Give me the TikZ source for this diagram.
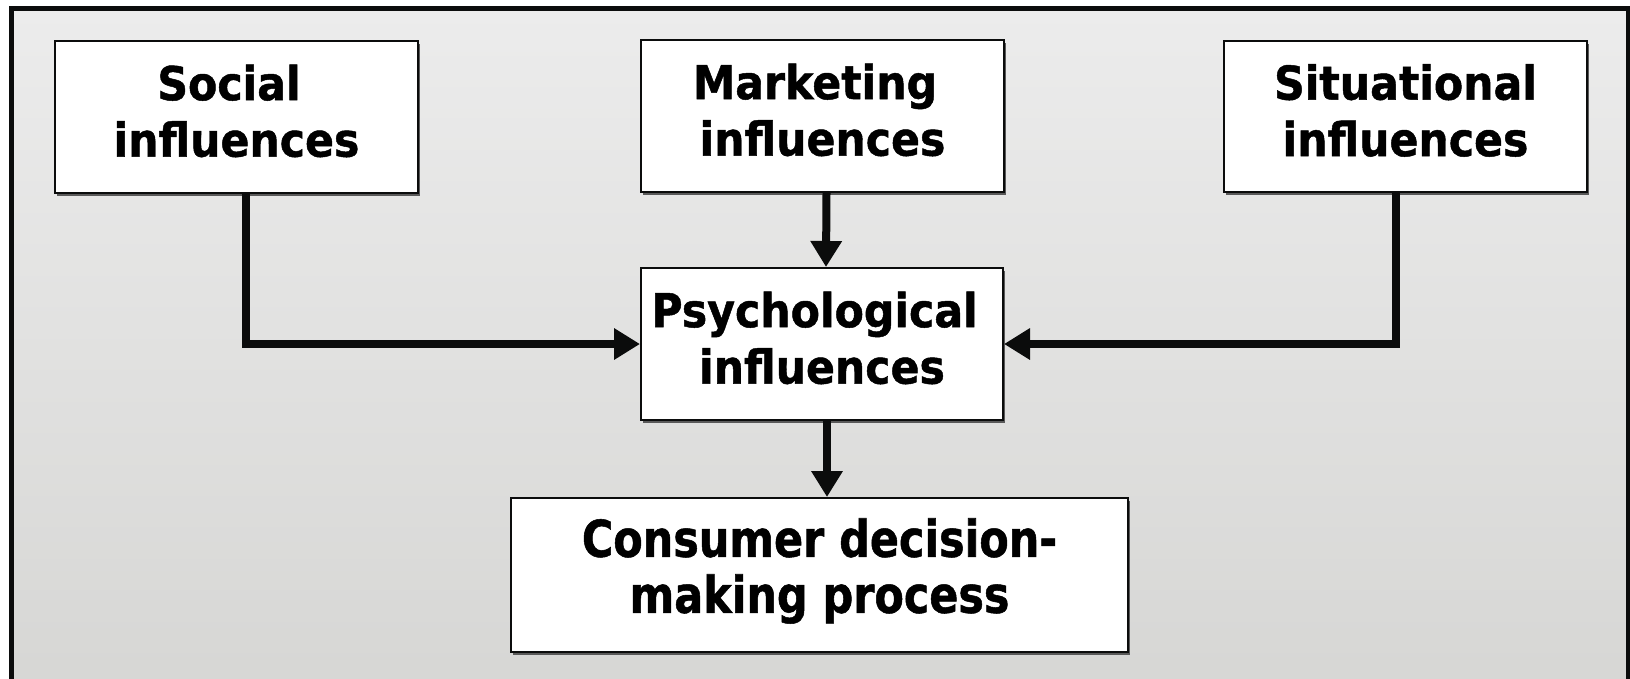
\documentclass[tikz,border=0pt]{standalone}
\usepackage{fontspec}
\usetikzlibrary{arrows.meta,shadows}
\newfontfamily\boxfont{DejaVu Sans Bold}[FakeStretch=0.915, FakeBold=1]
\newfontfamily\confont{DejaVu Sans Bold}[FakeStretch=0.845, FakeBold=1]
\definecolor{ink}{HTML}{0B0C0C}
\newcommand{\trail}{\hspace*{15pt}}
\tikzset{
  boxnode/.style={draw=ink, line width=2pt, fill=white, inner sep=0pt,
    drop shadow={shadow xshift=2pt, shadow yshift=-3pt, fill=black!65, opacity=1}},
  lbl/.style={align=center, inner sep=0pt, font=\boxfont\fontsize{46.6pt}{56.5pt}\selectfont},
  conlbl/.style={align=center, inner sep=0pt, font=\confont\fontsize{50.75pt}{56pt}\selectfont},
  conn/.style={draw=ink, line width=8pt, line join=miter,
    -{Triangle[length=26pt, width=30pt]}}
}
\begin{document}
\begin{tikzpicture}[x=1pt, y=-1pt]
\useasboundingbox (0,0) rectangle (1630,678);
\fill[white] (0,0) rectangle (1630,678);
\shade[top color={rgb,255:red,236;green,236;blue,236}, middle color={rgb,255:red,226;green,228;blue,229}, bottom color={rgb,255:red,214;green,214;blue,212}]
  (11,8) rectangle (1628.5,700);
\draw[ink, line width=5pt] (11,8) rectangle (1628.5,700);

\node[boxnode, minimum width=363pt, minimum height=152pt] (soc) at (236.5,117) {};
\node[boxnode, minimum width=363pt, minimum height=152pt] (mkt) at (822.5,116) {};
\node[boxnode, minimum width=363pt, minimum height=151pt] (sit) at (1405.5,116.5) {};
\node[boxnode, minimum width=362pt, minimum height=152pt] (psy) at (822,344) {};
\node[boxnode, minimum width=617pt, minimum height=154pt] (con) at (819.5,575) {};

\node[lbl] (soct) at ([yshift=6pt]soc.center) {Social\trail\\influences};
\node[lbl] (mktt) at ([yshift=6pt]mkt.center) {Marketing\trail\\influences};
\node[lbl] (sitt) at ([yshift=6pt]sit.center) {Situational\\influences};
\node[lbl] (psyt) at ([yshift=6pt]psy.center) {Psychological\trail\\influences};
\node[conlbl] (cont) at ([yshift=4pt]con.center) {Consumer decision-\\making process};

\draw[conn] ([xshift=9.5pt]soc.south) |- (psy.west);
\draw[conn] ([xshift=-9.5pt]sit.south) |- (psy.east);
\draw[conn] ([xshift=4pt]mkt.south) -- ([xshift=4pt]psy.north);
\draw[conn] ([xshift=5pt]psy.south) -- ([xshift=5pt]psy.south |- con.north);
\end{tikzpicture}
\end{document}
